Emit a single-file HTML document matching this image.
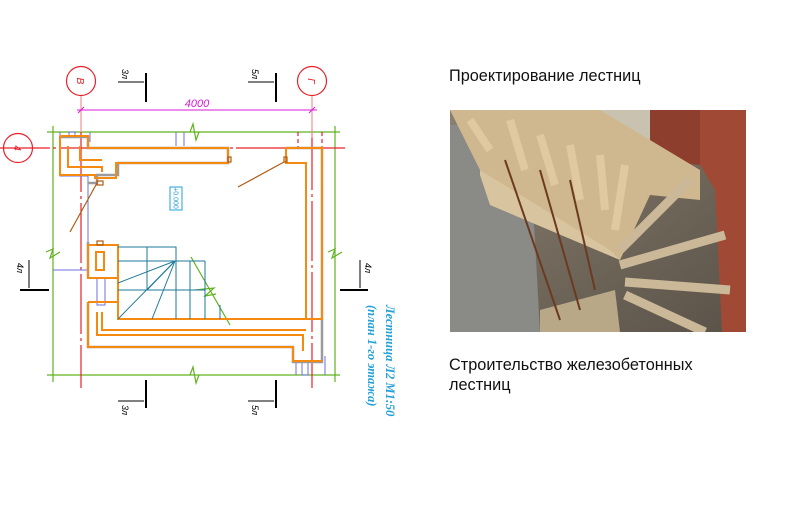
<!DOCTYPE html>
<html><head><meta charset="utf-8"><style>
html,body{margin:0;padding:0;background:#fff;width:800px;height:524px;overflow:hidden;position:relative;font-family:"Liberation Sans",sans-serif}
.t{position:absolute;left:449px;font-size:16.3px;color:#111;white-space:nowrap}
#photo{position:absolute;left:450px;top:110px;width:296px;height:222px;overflow:hidden;background:#6e6a60}
</style></head><body>
<svg width="420" height="524" style="position:absolute;left:0;top:0" font-family="Liberation Sans, sans-serif">
<g stroke="#5fb21f" stroke-width="1.2" fill="none">
<line x1="47" y1="132" x2="340" y2="132"/><line x1="47" y1="375" x2="340" y2="375"/>
<line x1="53" y1="126" x2="53" y2="382"/><line x1="335" y1="126" x2="335" y2="382"/>
<polyline points="190,132 193,124 196,140 199,132"/><polyline points="190,375 193,367 196,383 199,375"/>
<polyline points="46,252 53,249 50,258 60,252"/><polyline points="328,252 335,249 332,258 342,252"/>
<line x1="191" y1="257" x2="230" y2="325"/><polyline points="195,290 214,288 205,296 216,294"/>
</g>
<g stroke="#e8202a" stroke-width="1.2" fill="none">
<line x1="0" y1="148" x2="348" y2="148" stroke-dasharray="50,3,3,3"/>
<line x1="81" y1="132" x2="81" y2="388" stroke-dasharray="60,4,3,4"/>
<line x1="312" y1="130" x2="312" y2="388" stroke-dasharray="60,4,3,4"/>
<line x1="298" y1="132" x2="298" y2="148" stroke-dasharray="4,3"/><line x1="322" y1="132" x2="322" y2="148" stroke-dasharray="4,3"/>
<circle cx="81" cy="81" r="14.5"/><circle cx="312" cy="81" r="14.5"/><circle cx="18" cy="148" r="14.5"/>
</g>
<g stroke="#f59a9a" stroke-width="1.3"><line x1="81" y1="96" x2="81" y2="132"/><line x1="312" y1="96" x2="312" y2="138"/></g>
<g fill="#e8202a" font-size="10" font-style="italic" text-anchor="middle">
<text transform="translate(81,81) rotate(90)" y="4">В</text>
<text transform="translate(312,81) rotate(90)" y="4">Г</text>
<text transform="translate(18,148) rotate(90)" y="4">4</text>
</g>
<g stroke="#d81bd8" stroke-width="1"><line x1="77" y1="110" x2="317" y2="110"/><line x1="78" y1="113" x2="84" y2="107"/><line x1="309" y1="113" x2="315" y2="107"/></g>
<text x="197" y="107" fill="#d81bd8" font-size="11" font-style="italic" text-anchor="middle">4000</text>
<g stroke="#6f6fe0" stroke-width="1" fill="none">
<polyline points="60,132 60,176 88,176 88,270 53,270"/>
<line x1="176" y1="132" x2="176" y2="146"/><line x1="184" y1="132" x2="184" y2="146"/>
<rect x="69" y="132" width="6" height="5"/><line x1="90" y1="132" x2="90" y2="142"/>
<rect x="97" y="278" width="8" height="27"/><line x1="118" y1="276" x2="118" y2="306"/>
<rect x="302" y="361" width="6" height="14"/><line x1="296" y1="362" x2="296" y2="375"/><line x1="325" y1="356" x2="325" y2="375"/>
</g>
<g stroke="#9a9a9a" stroke-width="2.5" fill="none">
<polyline points="60,137 88,137 88,148 228,148 228,163 118,163 118,175 97,175 97,183 88,183"/>
<polyline points="286,148 322,148 322,362 293,362 293,347 88,347 88,302"/>
<polyline points="88,242 88,278"/>
</g>
<g stroke="#f68a10" stroke-width="2" fill="none">
<polyline points="60,136 88,136 88,148 228,148 228,163 116,163 116,178 95,178 95,175 60,175 60,136"/>
<polyline points="68,146 68,167 102,167 102,172"/>
<polyline points="80,146 80,160 102,160"/>
<polyline points="286,148 322,148 322,319 118,319 118,245 88,245 88,278 118,278"/>
<polyline points="286,148 286,163 306,163 306,319"/>
<polyline points="88,302 118,302 118,319"/>
<polyline points="88,302 88,347 293,347 293,361 322,361"/>
<polyline points="97,312 97,335 303,335 303,351"/>
<polyline points="102,312 102,330 306,330"/>
<rect x="96" y="252" width="8" height="18"/>
</g>
<g stroke="#b05a10" stroke-width="1.2" fill="none">
<line x1="97" y1="183" x2="70" y2="232"/><line x1="284" y1="162" x2="238" y2="187"/>
<rect x="97" y="181" width="6" height="4"/><rect x="97" y="241" width="6" height="4"/>
<rect x="228" y="157" width="3" height="5"/><rect x="284" y="157" width="3" height="5"/>
</g>
<g stroke="#1f7a9a" stroke-width="1" fill="none">
<polyline points="118,247 176,247 176,319"/><polyline points="118,261 205,261"/>
<line x1="147" y1="247" x2="147" y2="290"/><line x1="118" y1="290" x2="176" y2="290"/><line x1="176" y1="290" x2="205" y2="290"/>
<line x1="190" y1="261" x2="190" y2="319"/><line x1="205" y1="261" x2="205" y2="319"/><line x1="220" y1="305" x2="220" y2="319"/>
<line x1="175" y1="261" x2="118" y2="283"/><line x1="175" y1="261" x2="118" y2="319"/><line x1="175" y1="261" x2="152" y2="319"/><line x1="175" y1="261" x2="147" y2="290"/>
</g>
<rect x="170" y="187" width="12" height="23" fill="none" stroke="#23a0d8" stroke-width="1"/>
<text transform="translate(176,198) rotate(90)" fill="#23a0d8" font-size="7" text-anchor="middle" y="2.5">+0.000</text>
<g stroke="#000" stroke-width="2" fill="none">
<line x1="146" y1="73" x2="146" y2="102"/><line x1="276" y1="73" x2="276" y2="102"/>
<line x1="146" y1="380" x2="146" y2="408"/><line x1="276" y1="380" x2="276" y2="408"/>
<line x1="20" y1="290" x2="49" y2="290"/><line x1="340" y1="290" x2="368" y2="290"/>
</g>
<g stroke="#000" stroke-width="1" fill="none">
<line x1="118" y1="82" x2="144" y2="82"/><line x1="248" y1="82" x2="274" y2="82"/>
<line x1="118" y1="401" x2="144" y2="401"/><line x1="248" y1="401" x2="274" y2="401"/>
<line x1="29" y1="260" x2="29" y2="288"/><line x1="360" y1="260" x2="360" y2="288"/>
</g>
<g font-size="9" font-style="italic" fill="#000" text-anchor="middle">
<text transform="translate(125,74) rotate(90)" y="3">3л</text><text transform="translate(255,74) rotate(90)" y="3">5л</text>
<text transform="translate(125,410) rotate(90)" y="3">3л</text><text transform="translate(255,410) rotate(90)" y="3">5л</text>
<text transform="translate(20,268) rotate(90)" y="3">4л</text><text transform="translate(368,268) rotate(90)" y="3">4л</text>
</g>
<g fill="#23a0d8" font-size="12.5" font-style="italic" font-weight="bold" font-family="Liberation Serif, serif">
<text transform="translate(386,305) rotate(90)">Лестница Л2 М1:50</text>
<text transform="translate(368,305) rotate(90)">(план 1-го этажа)</text>
</g>
</svg>
<div class="t" style="top:67px">Проектирование лестниц</div>
<div id="photo">
<svg width="296" height="222">
<defs><linearGradient id="g1" x1="0" y1="0" x2="1" y2="1"><stop offset="0" stop-color="#8a8070"/><stop offset="1" stop-color="#5a5248"/></linearGradient></defs>
<rect width="296" height="222" fill="url(#g1)"/>
<polygon points="250,0 296,0 296,222 272,222 265,80 250,55" fill="#a04a35"/>
<polygon points="200,0 250,0 250,55 200,50" fill="#8e3e2c"/>
<polygon points="150,0 200,0 200,50 150,40" fill="#c9c2b0"/>
<polygon points="0,15 20,15 80,40 90,222 0,222" fill="#8a8a86"/>
<polygon points="0,0 150,0 250,60 250,90 200,85 170,150 30,60" fill="#cfb78f"/>
<polygon points="30,60 160,140 170,150 40,95 30,65" fill="#d9c4a0"/>
<g stroke="#e0c9a0" stroke-width="8"><line x1="20" y1="10" x2="40" y2="40"/><line x1="60" y1="10" x2="75" y2="60"/><line x1="90" y1="25" x2="105" y2="75"/><line x1="120" y1="35" x2="130" y2="90"/><line x1="150" y1="45" x2="155" y2="100"/><line x1="175" y1="55" x2="165" y2="120"/></g>
<g stroke="#cbb898" stroke-width="9"><line x1="170" y1="140" x2="240" y2="70"/><line x1="170" y1="155" x2="275" y2="125"/><line x1="175" y1="172" x2="280" y2="180"/><line x1="175" y1="185" x2="255" y2="222"/></g>
<polygon points="90,200 165,180 170,222 90,222" fill="#b8a888"/>
<g stroke="#6b3a20" stroke-width="2"><line x1="55" y1="50" x2="110" y2="210"/><line x1="90" y1="60" x2="130" y2="200"/><line x1="120" y1="70" x2="145" y2="180"/></g>
</svg>
</div>
<div class="t" style="top:355px;line-height:20px">Строительство железобетонных<br>лестниц</div>
</body></html>
